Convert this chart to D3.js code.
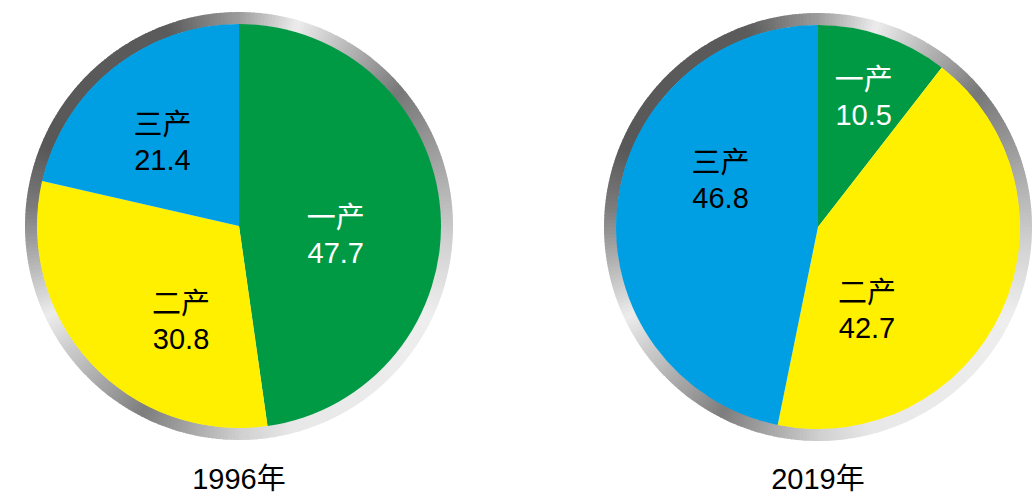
<!DOCTYPE html>
<html>
<head>
<meta charset="utf-8">
<script src="https://cdn.jsdelivr.net/npm/d3@7"></script>
<style>
  body { margin: 0; background: #fff; }
  svg text { font-family: "Liberation Sans", Arial, "Noto Sans CJK SC", sans-serif; }
</style>
</head>
<body>
<svg id="chart" width="1033" height="497"></svg>
<script>
// data
var years = ['1996年', '2019年'];
var sectors = ['一产', '二产', '三产'];
var values1996 = [47.7, 30.8, 21.4];
var values2019 = [10.5, 42.7, 46.8];

// ring shading, degrees clockwise from top -> grey
var ringStops = [0, 16, 50, 95, 115, 165, 180, 207, 245, 275, 292, 340, 360];
var ringGreys = ['#9c9c9c', '#ededed', '#777777', '#d2d2d2', '#eeeeee', '#e8e8e8', '#cfcfcf',
                 '#7d7d7d', '#ececec', '#7c7c7c', '#585858', '#5b5b5b', '#9c9c9c'];

// label nudges (from centroid), per pie
var nudges = [
  [[-13, 28], [23, 32], [-8, 13]],
  [[10, -15], [-51, 48], [12, -25]]
];

var colors = d3.scaleOrdinal().domain(sectors).range(['#009a44', '#fff000', '#009fe3']);
var textColor = d3.scaleOrdinal().domain(sectors).range(['#fff', '#000', '#000']);

var svg = d3.select('#chart');
var r = 202, ringW = 12;
var centers = [[239, 226], [818, 227]];

var pie = d3.pie().sort(null).value(function (d) { return d.v; });
var arc = d3.arc().innerRadius(0).outerRadius(r);
var labelArc = d3.arc().innerRadius(110).outerRadius(110);
var ringArc = d3.arc().innerRadius(r - 0.5).outerRadius(r + ringW);
var grey = d3.scaleLinear().domain(ringStops).range(ringGreys);

[values1996, values2019].forEach(function (vals, i) {
  var data = sectors.map(function (s, j) { return { s: s, v: vals[j] }; });
  var g = svg.append('g')
      .attr('transform', 'translate(' + centers[i] + ')');

  // metallic ring
  g.append('g').selectAll('path')
    .data(d3.range(0, 360, 1))
    .join('path')
      .attr('d', function (a) {
        return ringArc({ startAngle: a * Math.PI / 180, endAngle: (a + 1.2) * Math.PI / 180 });
      })
      .attr('fill', function (a) { return grey(a + 0.5); });

  var arcs = pie(data);

  g.selectAll('path.slice')
    .data(arcs)
    .join('path')
      .attr('class', 'slice')
      .attr('d', arc)
      .attr('fill', function (d) { return colors(d.data.s); });

  var lab = g.selectAll('g.lab')
    .data(arcs)
    .join('g')
      .attr('class', 'lab')
      .attr('transform', function (d, j) {
        var c = labelArc.centroid(d);
        return 'translate(' + (c[0] + nudges[i][j][0]) + ',' + (c[1] + nudges[i][j][1]) + ')';
      })
      .attr('fill', function (d) { return textColor(d.data.s); })
      .attr('text-anchor', 'middle')
      .style('font-size', '29px');

  lab.append('text')
      .attr('y', -18)
      .text(function (d) { return d.data.s; });
  lab.append('text')
      .attr('y', 17)
      .text(function (d) { return d.data.v.toFixed(1); });

  svg.append('text')
      .attr('x', centers[i][0])
      .attr('y', 489)
      .attr('text-anchor', 'middle')
      .style('font-size', '29px')
      .attr('fill', '#000')
      .text(years[i]);
});
</script>
</body>
</html>
